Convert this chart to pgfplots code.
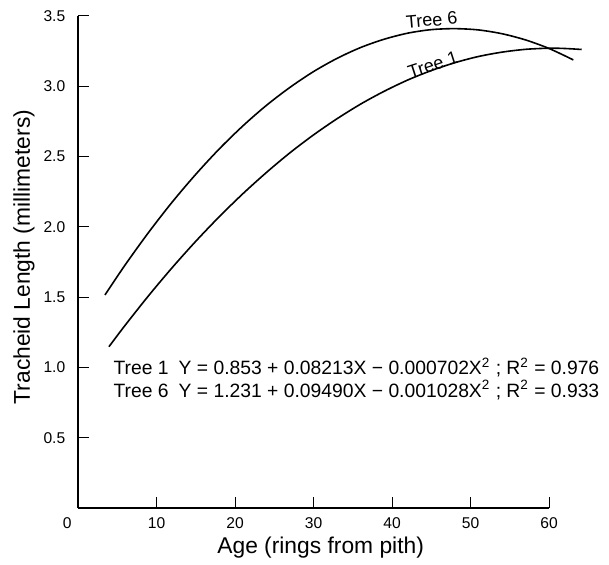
\documentclass[border=0pt]{standalone}
\usepackage{pgfplots}
\pgfplotsset{compat=1.18}
\usepackage{fontspec}
\setmainfont{Liberation Sans}
\begin{document}
\begin{tikzpicture}
\useasboundingbox (-39.05pt,-27.9pt) rectangle (265.45pt,254.1pt);
\begin{axis}[
  x=3.9245pt, y=70.335pt,
  anchor=origin, at={(0,0)},
  xmin=0, xmax=60, ymin=0, ymax=3.5,
  axis lines=left,
  axis line style={-, line width=0.9pt},
  clip=false,
  xtick={10,20,30,40,50,60},
  ytick={0.5,1,1.5,2,2.5,3,3.5},
  tick align=inside,
  major tick length=5.5pt,
  tick style={line width=0.5pt, black},
  /pgf/number format/assume math mode=true,
  yticklabel style={xshift=-2.9pt, /pgf/number format/fixed, /pgf/number format/fixed zerofill, /pgf/number format/precision=1},
  xticklabel style={yshift=-1pt},
  ticklabel style={font=\fontsize{7.8}{9}\selectfont},
  every axis x label/.style={at={(axis description cs:0.515,0)}, yshift=-19.9pt, anchor=center, font=\fontsize{11.4}{13}\selectfont},
  every axis y label/.style={at={(axis description cs:-0.115,0.51)}, rotate=90, anchor=center, font=\fontsize{11.4}{13}\selectfont},
  xlabel={Age (rings from pith)},
  ylabel={Tracheid Length (millimeters)},
]
% Tree 1
\addplot[black, line width=0.8pt, smooth] coordinates {
  (3.93,1.148) (6,1.301) (9,1.512) (12,1.711) (15,1.898) (18,2.073) (21,2.236)
  (24,2.387) (27,2.527) (30,2.654) (33,2.769) (36,2.873) (39,2.964) (42,3.044)
  (45,3.111) (48,3.167) (51,3.211) (54,3.242) (57,3.262) (60,3.270) (62,3.268) (64.16,3.261)
};
% Tree 6
\addplot[black, line width=0.8pt, smooth] coordinates {
  (3.42,1.516) (6,1.730) (9,1.962) (12,2.177) (15,2.374) (18,2.555) (21,2.718)
  (24,2.864) (27,2.992) (30,3.104) (33,3.198) (36,3.275) (39,3.334) (42,3.377)
  (45,3.402) (48,3.409) (51,3.400) (54,3.373) (57,3.329) (60,3.268) (63.09,3.187)
};
\node[anchor=north, yshift=-1pt, xshift=-5.5pt, font=\fontsize{7.8}{9}\selectfont] at (axis cs:0,0) {0};
\node[rotate=5, font=\fontsize{9}{10}\selectfont] at (axis cs:45.05,3.471) {Tree 6};
\node[rotate=18, font=\fontsize{9}{10}\selectfont] at (axis cs:45.2,3.151) {Tree 1};
\node[anchor=base west, inner sep=0, font=\fontsize{9.65}{11}\selectfont] at (axis cs:4.48,0.947) {Tree 1};
\node[anchor=base west, inner sep=0, font=\fontsize{9.65}{11}\selectfont] at (axis cs:12.77,0.947) {Y = 0.853 + 0.08213X − 0.000702X\textsuperscript{2} ; R\textsuperscript{2} = 0.976};
\node[anchor=base west, inner sep=0, font=\fontsize{9.65}{11}\selectfont] at (axis cs:4.48,0.790) {Tree 6};
\node[anchor=base west, inner sep=0, font=\fontsize{9.65}{11}\selectfont] at (axis cs:12.77,0.790) {Y = 1.231 + 0.09490X − 0.001028X\textsuperscript{2} ; R\textsuperscript{2} = 0.933};
\end{axis}
\end{tikzpicture}
\end{document}
